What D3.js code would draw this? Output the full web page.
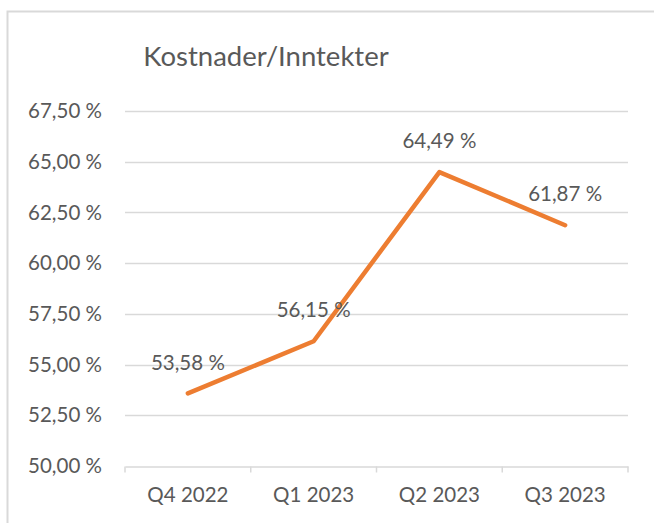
<!DOCTYPE html>
<html>
<head>
<meta charset="utf-8">
<script src="https://cdn.jsdelivr.net/npm/d3@7"></script>
<style>
  body { margin: 0; background: #fff; }
  text { font-family: Lato, "Noto Sans", sans-serif; fill: #595959; }
</style>
</head>
<body>
<script>
"use strict";

var categories = ["Q4 2022", "Q1 2023", "Q2 2023", "Q3 2023"];
var values = [53.58, 56.15, 64.49, 61.87];
var yTicks = [50, 52.5, 55, 57.5, 60, 62.5, 65, 67.5];
var title = "Kostnader/Inntekter";

var width = 654, height = 523;
var plot = { left: 125, right: 628, top: 111, bottom: 466 };
var labelSize = 20.5;

var fmt = function (v) { return v.toFixed(2).replace(".", ",") + " %"; };

var svg = d3.select("body").append("svg")
  .attr("width", width)
  .attr("height", height);

// chart border
svg.append("rect")
  .attr("x", 7.5).attr("y", 11.5)
  .attr("width", 700).attr("height", 600)
  .attr("fill", "#fff")
  .attr("stroke", "#d9d9d9")
  .attr("stroke-width", 2);

svg.append("text")
  .attr("x", 266).attr("y", 66)
  .attr("text-anchor", "middle")
  .attr("font-size", 27.5)
  .text(title);

var x = d3.scaleBand()
  .domain(categories)
  .range([plot.left, plot.right]);

var y = d3.scaleLinear()
  .domain([50, 67.5])
  .range([plot.bottom, plot.top]);

// gridlines
svg.append("g")
  .selectAll("line")
  .data(yTicks.slice(1))
  .enter()
  .append("line")
  .attr("x1", plot.left).attr("x2", plot.right)
  .attr("y1", function (d) { return Math.round(y(d)) + 0.5; })
  .attr("y2", function (d) { return Math.round(y(d)) + 0.5; })
  .attr("stroke", "#d9d9d9")
  .attr("stroke-width", 1.5);

// y labels
svg.append("g")
  .selectAll("text")
  .data(yTicks)
  .enter()
  .append("text")
  .attr("x", 102)
  .attr("y", function (d) { return y(d); })
  .attr("dy", "0.35em")
  .attr("text-anchor", "end")
  .attr("font-size", labelSize)
  .text(fmt);

// x axis
var xAxis = svg.append("g")
  .attr("transform", "translate(0," + (plot.bottom + 0.5) + ")")
  .call(d3.axisBottom(x).tickSize(0).tickPadding(21));
xAxis.select(".domain").attr("stroke", "#d9d9d9").attr("stroke-width", 1.5);
xAxis.selectAll("text")
  .attr("font-size", labelSize)
  .attr("fill", "#595959")
  .style("font-family", "Lato, 'Noto Sans', sans-serif");

var bounds = categories.map(function (c) { return x(c); }).concat([plot.right]);
xAxis.selectAll(".sep")
  .data(bounds)
  .enter()
  .append("line")
  .attr("class", "sep")
  .attr("x1", function (d) { return d; })
  .attr("x2", function (d) { return d; })
  .attr("y1", 0).attr("y2", 6)
  .attr("stroke", "#d9d9d9")
  .attr("stroke-width", 1.5);

var cx = function (d, i) { return x(categories[i]) + x.bandwidth() / 2; };

var line = d3.line()
  .x(function (d, i) { return cx(d, i); })
  .y(function (d) { return y(d); });

svg.append("path")
  .datum(values)
  .attr("d", line)
  .attr("fill", "none")
  .attr("stroke", "#ed7d31")
  .attr("stroke-width", 4.5)
  .attr("stroke-linecap", "round")
  .attr("stroke-linejoin", "round");

svg.append("g")
  .selectAll("text")
  .data(values)
  .enter()
  .append("text")
  .attr("x", cx)
  .attr("y", function (d) { return y(d) - 31; })
  .attr("dy", "0.35em")
  .attr("text-anchor", "middle")
  .attr("font-size", labelSize)
  .text(fmt);
</script>
</body>
</html>
